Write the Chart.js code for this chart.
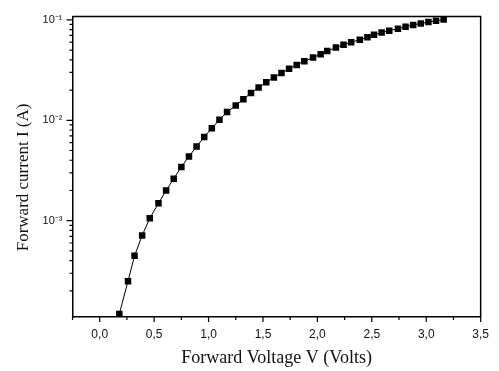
<!DOCTYPE html>
<html>
<head>
<meta charset="utf-8">
<script src="https://cdn.jsdelivr.net/npm/chart.js@4"></script>
<style>
  html, body { margin: 0; padding: 0; background: #fff; }
  #wrap { width: 499px; height: 371px; }
</style>
</head>
<body>
<div id="wrap"><canvas id="ivChart" width="499" height="371"></canvas></div>
<script>
// forward voltage (V) and current (A)
const voltage = [0.18, 0.26, 0.32, 0.39, 0.46, 0.54, 0.61, 0.68, 0.75, 0.82,
                 0.89, 0.96, 1.03, 1.10, 1.17, 1.25, 1.32, 1.39, 1.46, 1.53,
                 1.60, 1.67, 1.74, 1.81, 1.88, 1.96, 2.03, 2.09, 2.17, 2.24,
                 2.31, 2.39, 2.46, 2.52, 2.59, 2.66, 2.74, 2.81, 2.88, 2.95,
                 3.02, 3.09, 3.16];
const current = [1.18e-4, 2.50e-4, 4.47e-4, 7.13e-4, 1.06e-3, 1.49e-3, 2.00e-3, 2.62e-3, 3.43e-3, 4.37e-3,
                 5.47e-3, 6.81e-3, 8.35e-3, 1.01e-2, 1.21e-2, 1.40e-2, 1.62e-2, 1.87e-2, 2.12e-2, 2.39e-2,
                 2.67e-2, 2.96e-2, 3.26e-2, 3.56e-2, 3.87e-2, 4.21e-2, 4.54e-2, 4.89e-2, 5.29e-2, 5.66e-2,
                 5.99e-2, 6.34e-2, 6.70e-2, 7.10e-2, 7.46e-2, 7.80e-2, 8.16e-2, 8.53e-2, 8.89e-2, 9.20e-2,
                 9.52e-2, 9.78e-2, 1.007e-1];

const xTickValues = [0, 0.5, 1.0, 1.5, 2.0, 2.5, 3.0, 3.5];
const xMinorValues = [-0.25, 0.25, 0.75, 1.25, 1.75, 2.25, 2.75, 3.25];
const yTickValues = [1e-3, 1e-2, 1e-1];
const yTickLabels = ['10\u207B\u00B3', '10\u207B\u00B2', '10\u207B\u00B9'];

const points = voltage.map((v, i) => ({ x: v, y: current[i] }));

// minor log ticks 2..9 x 10^n
const yMinorValues = [];
[-4, -3, -2].forEach(p => {
    for (let m = 2; m <= 9; m++) yMinorValues.push(m * Math.pow(10, p));
});

// frame on top/right plus custom outward tick marks
const frameTicks = {
    id: 'frameTicks',
    afterDraw(chart) {
        const { ctx, chartArea: a, scales } = chart;
        ctx.save();
        ctx.strokeStyle = '#000';
        ctx.lineWidth = 1.5;
        ctx.beginPath();
        ctx.moveTo(a.left, a.top);
        ctx.lineTo(a.right, a.top);
        ctx.lineTo(a.right, a.bottom);
        ctx.stroke();

        ctx.lineWidth = 1.2;
        ctx.beginPath();
        xTickValues.forEach(v => {
            const px = scales.x.getPixelForValue(v);
            ctx.moveTo(px, a.bottom); ctx.lineTo(px, a.bottom + 5);
        });
        xMinorValues.forEach(v => {
            const px = scales.x.getPixelForValue(v);
            ctx.moveTo(px, a.bottom); ctx.lineTo(px, a.bottom + 3);
        });
        yTickValues.forEach(v => {
            const py = scales.y.getPixelForValue(v);
            ctx.moveTo(a.left, py); ctx.lineTo(a.left - 6, py);
        });
        yMinorValues.forEach(v => {
            const py = scales.y.getPixelForValue(v);
            if (py < a.top || py > a.bottom) return;
            ctx.moveTo(a.left, py); ctx.lineTo(a.left - 3, py);
        });
        ctx.stroke();
        ctx.restore();
    }
};

const ctx = document.getElementById('ivChart').getContext('2d');
new Chart(ctx, {
    type: 'line',
    data: {
        datasets: [{
            data: points,
            borderColor: '#000',
            borderWidth: 1,
            backgroundColor: '#000',
            pointStyle: 'rect',
            pointRadius: 4.6,
            pointBorderWidth: 0,
            tension: 0
        }]
    },
    options: {
        responsive: false,
        animation: false,
        layout: { padding: { left: 0, right: 13, top: 12, bottom: 0 } },
        plugins: { legend: { display: false }, tooltip: { enabled: false } },
        scales: {
            x: {
                type: 'linear',
                min: -0.25,
                max: 3.5,
                afterBuildTicks: scale => { scale.ticks = xTickValues.map(v => ({ value: v })); },
                afterFit: scale => { scale.height = 54; },
                grid: { display: false, drawTicks: false },
                border: { display: true, color: '#000', width: 1.5 },
                ticks: {
                    padding: 10,
                    maxRotation: 0,
                    color: '#111',
                    font: { family: 'Liberation Sans', size: 12 },
                    callback: v => v.toFixed(1).replace('.', ',')
                },
                title: {
                    display: true,
                    text: 'Forward Voltage V (Volts)',
                    color: '#111',
                    font: { family: 'Liberation Serif', size: 18 },
                    padding: { top: 2, bottom: 2 }
                }
            },
            y: {
                type: 'logarithmic',
                min: 1.1e-4,
                max: 0.1077,
                afterBuildTicks: scale => { scale.ticks = yTickValues.map(v => ({ value: v })); },
                afterFit: scale => { scale.width = 72.5; },
                grid: { display: false, drawTicks: false },
                border: { display: true, color: '#000', width: 1.5 },
                ticks: {
                    padding: 10,
                    color: '#111',
                    font: { family: 'Liberation Sans', size: 11 },
                    callback: (v) => {
                        const i = yTickValues.findIndex(t => Math.abs(Math.log10(t) - Math.log10(v)) < 1e-6);
                        return i >= 0 ? yTickLabels[i] : '';
                    }
                },
                title: {
                    display: true,
                    text: 'Forward current I (A)     ',
                    color: '#111',
                    font: { family: 'Liberation Serif', size: 17 },
                    padding: { top: 13, bottom: 0 }
                }
            }
        }
    },
    plugins: [frameTicks]
});
</script>
</body>
</html>
